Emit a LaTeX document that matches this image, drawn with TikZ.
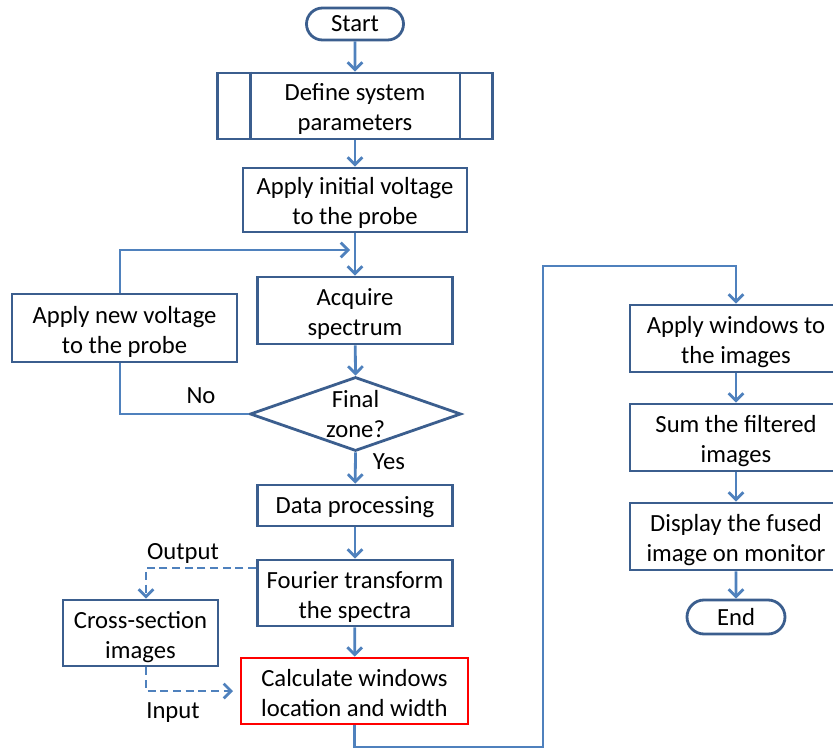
\documentclass[tikz,border=0pt]{standalone}
\usepackage{fontspec}
\setmainfont{Carlito}
\usetikzlibrary{arrows.meta,shapes.geometric,shapes.misc,calc}

\definecolor{boxline}{HTML}{3B5E8E}
\definecolor{flowline}{HTML}{4F81BD}
\definecolor{hilite}{HTML}{FF0000}

% box text: rows set on struts, lowered a little while the box keeps its size
\newcommand\boxlines[2][3pt]{%
  \raisebox{-#1}[\height][\depth]{\begin{tabular}{@{}c@{}}#2\end{tabular}}}

\tikzset{
  every node/.style={font=\fontsize{18.5pt}{22.5pt}\selectfont, text=black},
  procbox/.style={draw=boxline, line width=2.1pt, fill=white, rectangle,
    inner sep=0pt},
  termbox/.style={draw=boxline, line width=2.1pt, fill=white,
    rounded rectangle, align=center, inner sep=0pt},
  decision/.style={draw=boxline, line width=2.1pt, fill=white, diamond,
    inner sep=0pt},
  flow/.style={draw=flowline, line width=2.1pt,
    -{Straight Barb[length=5.5pt,width=11pt,line width=2.1pt]}},
  conn/.style={draw=flowline, line width=2.1pt},
  dashflow/.style={flow, dash pattern=on 6pt off 3.5pt},
  tag/.style={inner sep=0pt},
}

\begin{document}
\begin{tikzpicture}[x=0.75pt, y=-0.75pt]
  % canvas
  \useasboundingbox (0,0) rectangle (833,749);
  \clip (0,0) rectangle (833,749);

  % main column
  \node[termbox, minimum width=72.75pt, minimum height=24pt] (start) at (355,24) {Start};
  \node[procbox, minimum width=206.25pt, minimum height=49.5pt] (def) at (355,106)
    {\boxlines{Define system\\parameters}};
  \draw[boxline, line width=2.1pt]
    ([xshift=25.5pt]def.north west) -- ([xshift=25.5pt]def.south west)
    ([xshift=-25.5pt]def.north east) -- ([xshift=-25.5pt]def.south east);
  \node[procbox, minimum width=168pt, minimum height=48pt] (vinit) at (355,200)
    {\boxlines{Apply initial voltage\\to the probe}};
  \node[procbox, minimum width=146.25pt, minimum height=50.25pt] (acq) at (355,310.5)
    {\boxlines{Acquire\\spectrum}};
  \node[procbox, minimum width=168.75pt, minimum height=51pt] (vnew) at (124.5,328)
    {\boxlines{Apply new voltage\\to the probe}};
  \node[decision, minimum width=158.25pt, minimum height=55.5pt] (fz) at (355.5,414) {};
  \node[tag, align=center] (fzt) at (fz.center) {Final\\zone?};
  \node[procbox, minimum width=146.25pt, minimum height=30.75pt] (data) at (355,505.5)
    {\boxlines[1.5pt]{Data processing}};
  \node[procbox, minimum width=146.25pt, minimum height=49.5pt] (four) at (355,593)
    {\boxlines{Fourier transform\\the spectra}};
  \node[procbox, minimum width=116.25pt, minimum height=49.5pt] (cross) at (140.5,633)
    {\boxlines{Cross-section\\images}};
  \node[procbox, draw=hilite, minimum width=170.25pt, minimum height=49.5pt] (calc) at (354.5,691)
    {\boxlines{Calculate windows\\location and width}};

  % right column
  \node[procbox, minimum width=159pt, minimum height=50.25pt] (aw) at (736,338.5)
    {\boxlines{Apply windows to\\the images}};
  \node[procbox, minimum width=159pt, minimum height=50.25pt] (sum) at (736,437.5)
    {\boxlines{Sum the filtered\\images}};
  \node[procbox, minimum width=159pt, minimum height=50.25pt] (disp) at (736,536.5)
    {\boxlines{Display the fused\\image on monitor}};
  \node[termbox, minimum width=73.5pt, minimum height=25.5pt] (end) at (736,617) {End};

  % branch labels
  \node[tag] (lno) at (201,396) {No};
  \node[tag] (lyes) at (389,462) {Yes};
  \node[tag] (lout) at (183,553) {Output};
  \node[tag] (lin) at (173,713) {Input};

  % waypoints
  \coordinate (loopup) at (120,294);
  \coordinate (loopin) at (350,250);
  \coordinate (nodown) at (120,362);
  \coordinate (outbend) at (146,568);
  \coordinate (inbend) at (146,691);
  \coordinate (inend) at (233,691);
  \coordinate (low) at (543,747);
  \coordinate (high) at (736,266);

  % connectors
  \draw[flow] (start) -- (def);
  \draw[flow] (def) -- (vinit);
  \draw[flow] (vinit) -- (acq);
  \draw[flow] (vnew.north -| loopup) |- (loopin);
  \draw[flow] (acq) -- (fz.north);
  \draw[conn] (fz.west) -| (vnew.south -| nodown);
  \draw[flow] (fz.south) -- (data);
  \draw[flow] (data) -- (four);
  \draw[flow] (four) -- (calc);
  \draw[dashflow] (four.west |- outbend) -| (cross.north -| outbend);
  \draw[dashflow] (cross.south -| inbend) -- (inbend) -- (inend);
  \draw[flow] (calc.south) |- (low) |- (high) -- (aw.north);
  \draw[flow] (aw) -- (sum);
  \draw[flow] (sum) -- (disp);
  \draw[flow] (disp) -- (end);
\end{tikzpicture}
\end{document}
